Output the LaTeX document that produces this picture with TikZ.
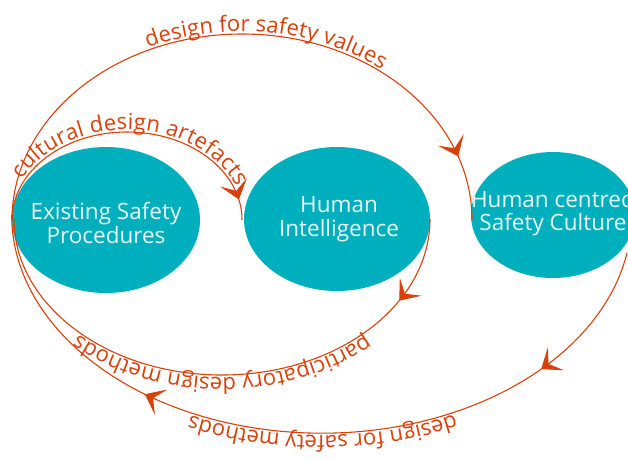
\documentclass[tikz,border=0pt]{standalone}
\usepackage{fontspec}
\setmainfont{Open Sans}
\usetikzlibrary{shapes.geometric,decorations.text,decorations.markings,arrows.meta,calc}
\definecolor{bubblec}{HTML}{00AFBE}
\definecolor{arcc}{HTML}{D9400A}
\definecolor{txtc}{HTML}{E8F8F8}
\begin{document}
\begin{tikzpicture}[x=1pt,y=-1pt,
  bubble/.style={ellipse, fill=bubblec, inner sep=0pt, outer sep=0pt},
  bubbletext/.style={text=txtc, font=\fontsize{22.5}{23.5}\selectfont, align=center, inner sep=0pt},
  flow/.style={draw=arcc, line width=1.1pt},
  lbl/.style n args={2}{postaction={decorate, decoration={text along path, text={|\fontsize{22}{22}\selectfont|#1}, text color=arcc, text align={center,#2}, raise=2.5pt}}},
  tipat/.style={postaction={decorate, decoration={markings, mark=at position #1 with {\pgfsetfillcolor{arcc}\pgfsetstrokecolor{arcc}\arrow{Stealth[length=18pt,width=28pt,inset=9pt,color=arcc,fill=arcc]}}}}}
]
\useasboundingbox (0,0) rectangle (628,459);
\node[bubble, minimum width=188pt, minimum height=146pt] (e1) at (106,220) {};
\node[bubble, minimum width=186pt, minimum height=144pt] (e2) at (337,219) {};
\node[bubble, minimum width=164pt, minimum height=126pt] (e3) at (553,215) {};
\node[bubbletext] (t1) at ($(e1.center)+(0,3)$) {Existing Safety\\Procedures};
\node[bubbletext] (t2) at ($(e2.center)+(2,0)$) {Human\\Intelligence};
\node[bubbletext] (t3) at ($(e3.center)+(0,-2)$) {Human centred\\Safety Culture};

% design for safety values
\draw[flow, lbl={design for safety values}{left indent=50pt}, tipat=0.9]
  (e1.west) arc[start angle=180, end angle=360, x radius=230, y radius=186];
% cultural design artefacts
\draw[flow, lbl={cultural design artefacts}{left indent=8pt}, tipat=0.935]
  (e1.west) arc[start angle=180, end angle=360, x radius=115, y radius=88];
% participatory design methods
\draw[flow, lbl={participatory design methods}{left indent=0pt}, tipat=0.155]
  (e2.east) arc[start angle=0, end angle=180, x radius=208, y radius=156];
% design for safety methods
\draw[flow, lbl={design for safety methods}{right indent=40pt}, tipat=0.185, tipat=0.705]
  ($(e3.center)+(74,38)$) arc[start angle=10, end angle=180, x radius=310, y radius=218];
\end{tikzpicture}
\end{document}
